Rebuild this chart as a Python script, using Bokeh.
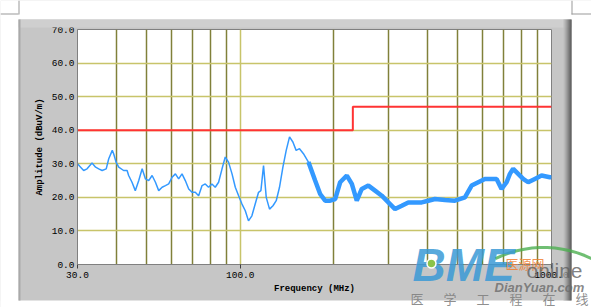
import math
from bokeh.plotting import figure
from bokeh.layouts import column, row
from bokeh.models import FixedTicker, PrintfTickFormatter, Range1d
from bokeh.core.properties import value
from bokeh.embed import file_html
from bokeh.resources import INLINE

# ---- data ----
freq_mhz = [30.0, 30.7, 31.4, 32.2, 33.4, 34.3, 35.1, 36.0, 37.1, 37.8, 38.8, 39.2, 39.9,
            40.7, 42.2, 43.3, 43.8, 44.9, 46.0, 47.2, 48.4, 49.6, 50.8, 52.1, 53.4, 54.7,
            56.1, 57.5, 58.9, 60.4, 61.9, 63.4, 65.0, 66.6, 68.3, 70.0, 71.7, 73.5, 75.4,
            77.2, 79.1, 81.1, 83.1, 85.2, 87.4, 89.5, 91.7, 94.1, 96.4, 98.8, 101.3, 103.8,
            106.3, 109.0, 111.7, 114.5, 116.5, 118.8, 121.2, 124.2, 127.4, 130.5, 133.7,
            137.1, 140.5, 144.0, 147.6, 151.2, 155.0, 159.6, 165.6, 174.0, 180.6, 187.4,
            194.5, 201.8, 209.4, 220.0, 228.3, 236.8, 245.7, 258.0, 271.1, 284.9, 299.1,
            314.3, 330.3, 346.7, 364.3, 382.9, 401.9, 422.3, 454.8, 489.4, 527.1, 553.8,
            581.6, 611.0, 642.0, 666.2, 691.2, 717.4, 735.1, 753.1, 781.5, 810.9, 841.4,
            884.1, 928.9, 987.6, 1000.0]
amp_dbuv = [30.0, 29.0, 28.0, 28.5, 30.2, 29.0, 28.5, 28.0, 28.5, 31.5, 34.0, 33.0, 30.5,
            29.0, 28.0, 28.0, 26.5, 24.5, 22.0, 25.0, 28.5, 25.5, 25.0, 26.5, 24.5, 22.0,
            23.0, 23.5, 24.0, 26.0, 27.0, 25.5, 27.0, 25.0, 22.5, 21.5, 21.5, 20.5, 23.5,
            24.0, 23.0, 24.0, 23.0, 24.5, 28.5, 32.0, 30.5, 27.0, 23.0, 20.5, 18.0, 16.0,
            13.0, 14.5, 18.0, 21.5, 22.0, 29.5, 20.0, 16.5, 17.5, 19.0, 23.0,
            29.0, 34.0, 38.0, 36.5, 34.0, 34.5, 33.0, 30.5, 25.0, 21.0, 19.0,
            19.0, 19.5, 24.5, 26.5, 24.0, 19.0, 22.5, 23.5, 22.0, 20.5, 18.5,
            16.5, 17.5, 18.5, 18.5, 18.5, 19.0, 19.5, 19.2, 19.0, 20.0, 23.5,
            24.5, 25.5, 25.5, 25.5, 22.5, 24.5, 27.0, 28.5, 27.0, 25.5, 24.5,
            25.5, 26.5, 26.0, 26.0]
limit_freq = [30.0, 230.0, 230.0, 1000.0]
limit_amp = [40.0, 40.0, 47.0, 47.0]
x_major = [30.0, 100.0, 1000.0]
x_minor = [40, 50, 60, 70, 80, 90, 200, 300, 400, 500, 600, 700, 800, 900]
y_major = [0, 10, 20, 30, 40, 50, 60, 70]
footer_chars = ["医", "学", "工", "程", "在", "线"]

W, H = 591, 307

# ---------------- main chart ----------------
p = figure(width=W, height=H, x_axis_type="log",
           x_range=Range1d(30, 1000), y_range=Range1d(0, 70),
           output_backend="svg", toolbar_location=None,
           min_border_left=77, min_border_right=40, min_border_top=29, min_border_bottom=43)
p.border_fill_color = "#c6c6c6"
p.background_fill_color = "white"
p.outline_line_color = "#808080"

p.xaxis.ticker = FixedTicker(ticks=x_major, minor_ticks=x_minor)
p.yaxis.ticker = FixedTicker(ticks=y_major)
p.xgrid.grid_line_color = "#c8c46a"
p.xgrid.grid_line_width = 1.5
p.xgrid.minor_grid_line_color = "#80803a"
p.xgrid.minor_grid_line_width = 1.5
p.ygrid.grid_line_color = "#c8c46a"
p.ygrid.grid_line_width = 1.5

fmt = PrintfTickFormatter(format="%.1f")
p.xaxis.formatter = fmt
p.yaxis.formatter = fmt
for ax in (p.xaxis[0], p.yaxis[0]):
    ax.major_label_text_font = "Liberation Mono"
    ax.major_label_text_font_size = "9.5px"
    ax.major_label_text_color = "black"
    ax.axis_label_text_font = "Liberation Mono"
    ax.axis_label_text_font_size = "9px"
    ax.axis_label_text_font_style = "bold"
    ax.axis_label_text_color = "black"
    ax.axis_line_color = "#808080"
    ax.minor_tick_line_color = None
    ax.major_tick_line_color = "#404040"
    ax.major_tick_in = 0
p.xaxis.major_tick_out = 4
p.yaxis.major_tick_out = 0
p.xaxis.major_label_standoff = 3
p.yaxis.major_label_standoff = 3
p.xaxis.axis_label = "Frequency (MHz)"
p.yaxis.axis_label = "Amplitude (dBuV/m)"
p.xaxis.axis_label_standoff = 3
p.yaxis.axis_label_standoff = 4

p.line(limit_freq, limit_amp, line_color="#ff3333", line_width=2)
p.line(freq_mhz, amp_dbuv, line_color="#3399ff", line_width=1.5)
band_f = [f for f in freq_mhz if f >= 165]
band_a = [a for f, a in zip(freq_mhz, amp_dbuv) if f >= 165]
p.line(band_f, band_a, line_color="#3399ff", line_width=4.5)

# ---------------- overlay: page margins, panel bevel, watermark ----------------
o = figure(width=W, height=H, x_range=Range1d(0, W), y_range=Range1d(H, 0),
           output_backend="svg", toolbar_location=None,
           x_axis_location=None, y_axis_location=None,
           min_border=0, min_border_left=0, min_border_right=0,
           min_border_top=0, min_border_bottom=0)
o.grid.visible = False
o.outline_line_color = None
o.background_fill_alpha = 0
o.border_fill_alpha = 0

def rect(l, r, t, b, color, alpha=1.0):
    o.quad(left=[l], right=[r], top=[t], bottom=[b], fill_color=color,
           fill_alpha=alpha, line_color=None)

rect(0, W, 0, 19, "white")
rect(0, 18, 0, H, "white")
rect(571, W, 0, H, "white")
rect(0, W, 300, H, "white")
rect(18, 571, 19, 27, "#cfcfcf")
rect(18, 20, 19, 300, "#a9a9a9")
shade = ["#bdbdbd", "#b0b0b0", "#a0a0a0", "#8e8e8e", "#7a7a7a", "#666666", "#525252", "#404040"]
for i, c in enumerate(shade):
    rect(563 + i, 564 + i, 19, 300, c)
rect(18, 19, 0, 14, "#9a9a9a")
rect(0, 18, 13, 14, "#9a9a9a")
rect(571, 572, 0, 14, "#9a9a9a")
rect(571, W, 13, 14, "#9a9a9a")

def lab(x, y, txt, size, color, font="Liberation Sans", style="normal", alpha=1.0):
    o.text(x=[x], y=[y], text=[txt], text_font=value(font), text_font_size=size,
           text_color=color, text_font_style=style, text_alpha=alpha,
           text_baseline="middle", text_align="left")

# green swoosh above "online" (decoration, overlay pixel space)
sw_t = [math.radians(64 + 4 * k) for k in range(14)]
o.line([543 + 110 * math.cos(t) for t in sw_t], [357 - 110 * math.sin(t) for t in sw_t],
       line_color="#4caf50", line_width=3, line_alpha=0.8)
lab(412, 264, "BME", "46px", "#3a9ad6", style="bold italic", alpha=0.85)
o.scatter(x=[431], y=[263], size=9, fill_color="#8bc34a", line_color="white", line_width=1.5)
lab(505, 263, "医源网", "13px", "#f08030", font="Noto Sans CJK SC", alpha=0.85)
lab(526, 270, "online", "21px", "#606060", alpha=0.8)
lab(494, 287, "DianYuan.com", "13px", "#6a6a6a", style="bold italic", alpha=0.8)
o.text(x=[410 + 33 * i for i in range(len(footer_chars))], y=[298] * len(footer_chars),
       text=footer_chars, text_font=value("Noto Sans CJK SC"), text_font_size="13px",
       text_color="#808080", text_alpha=0.9, text_baseline="middle", text_align="left")

wrap = row(o, margin=(-H, 0, 0, 0))
layout = column(p, wrap, spacing=0)
open("out.html", "w").write(file_html(layout, INLINE))
